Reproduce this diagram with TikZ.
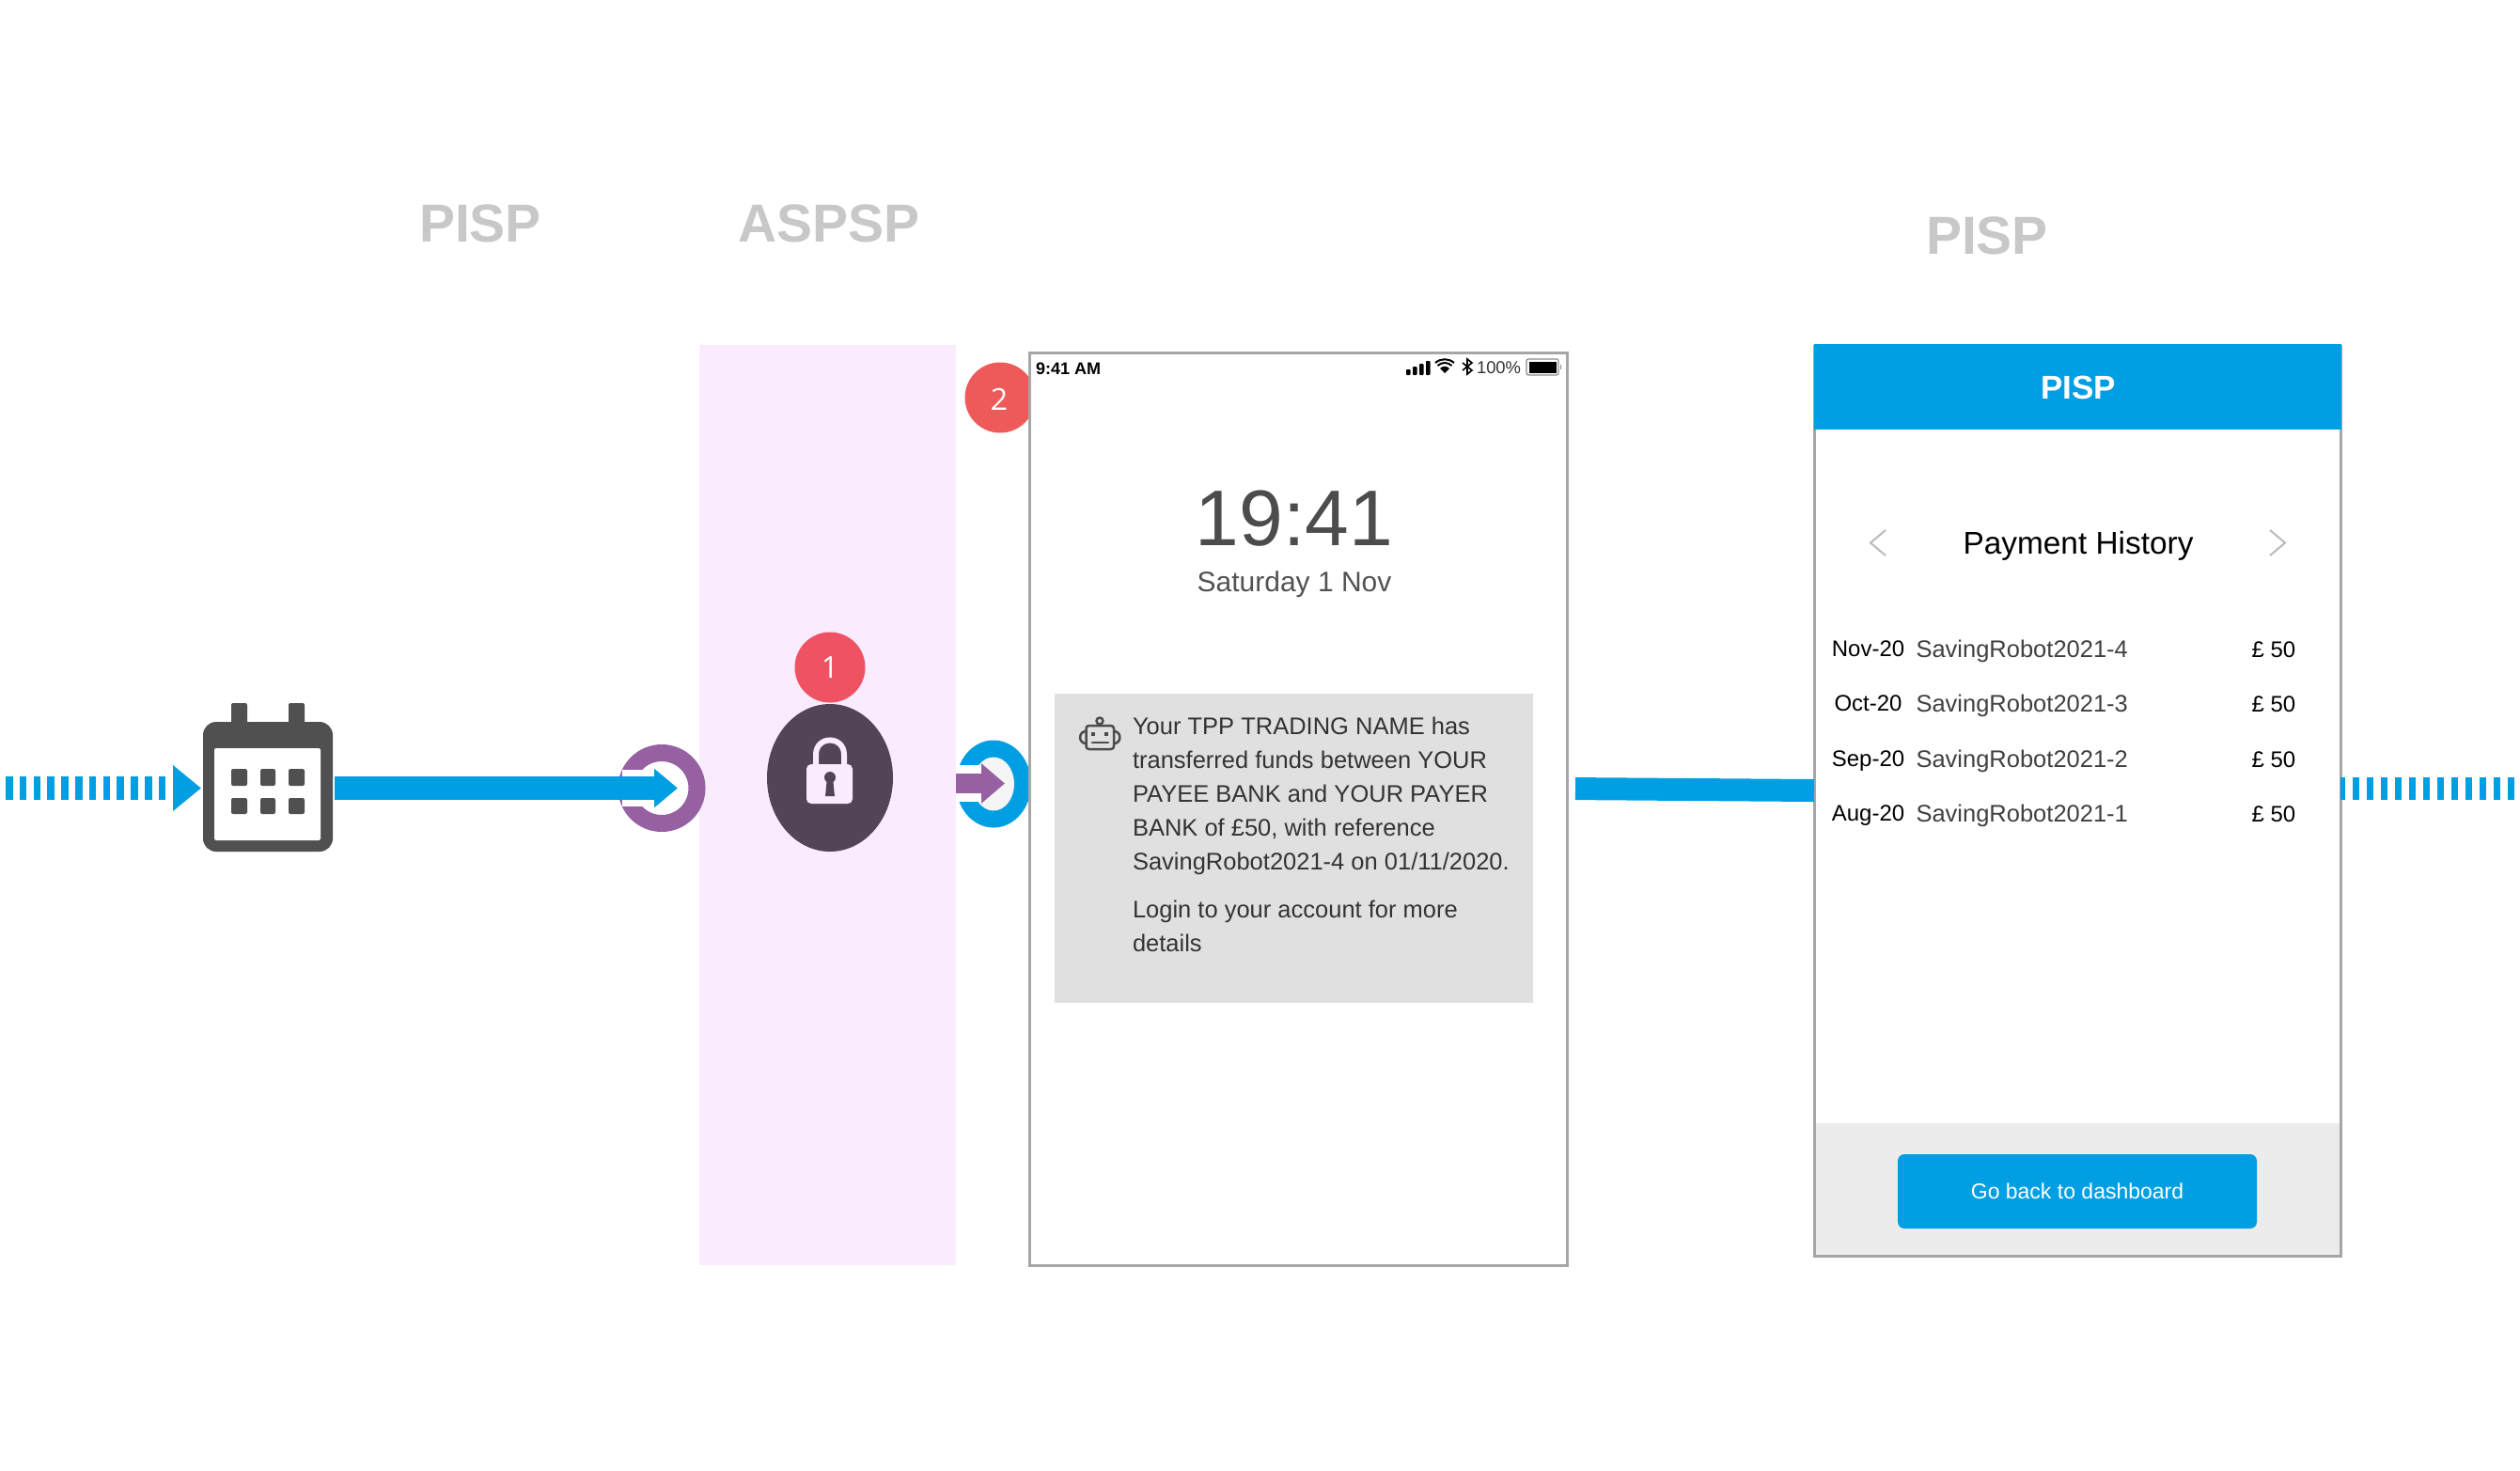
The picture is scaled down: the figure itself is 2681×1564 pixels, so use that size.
\documentclass[tikz,border=0pt]{standalone}
\usepackage{fontspec}
\setmainfont{Liberation Sans}
\newfontfamily\opensans{Open Sans}
\usetikzlibrary{arrows.meta,shapes.geometric}
\definecolor{flow}{HTML}{009FE3}
\definecolor{plum}{HTML}{9660A3}
\definecolor{pinkpanel}{HTML}{FBEBFF}
\definecolor{lockdark}{HTML}{544457}
\definecolor{badgeA}{HTML}{EE5263}
\definecolor{badgeB}{HTML}{EE5A5A}
\definecolor{frame}{HTML}{A6A6A6}
\definecolor{calgrey}{HTML}{505050}
\definecolor{msgbox}{HTML}{E0E0E0}
\definecolor{title}{HTML}{C8C8C8}
\definecolor{footgrey}{HTML}{ECECEC}
\newcommand\fpx[2]{\fontsize{#1}{#2}\selectfont}
\tikzset{
  txt/.style={inner sep=0pt,outer sep=0pt},
  phonebox/.style={draw=frame,line width=1.5pt,fill=white,inner sep=0pt,outer sep=0pt},
  titletxt/.style={txt,font=\fpx{28.5}{32}\bfseries,text=title},
  rowdate/.style={txt,anchor=base,font=\fpx{12}{14},text=black},
  rowref/.style={txt,anchor=base west,font=\fpx{12.75}{14},text=black!75},
  rowamt/.style={txt,anchor=base west,font=\fpx{12}{14},text=black},
  flowdash/.style={draw=flow,line width=12.5pt,dash pattern=on 3.8pt off 3.6pt},
  flowsolid/.style={draw=flow,line width=12.5pt},
  calcell/.style={fill=calgrey,rounded corners=1pt},
  iconline/.style={draw=black!70,line width=1.25pt,line join=round,line cap=round},
  chev/.style={draw=black!27,line width=1pt}
}
\begin{document}
\begin{tikzpicture}[x=0.5pt,y=-0.5pt]
\useasboundingbox (0,0) rectangle (2681,1564);
% titles
\node[titletxt] (t1) at (511,238) {PISP};
\node[titletxt] (t2) at (882,238) {ASPSP};
\node[titletxt] (t3) at (2114,251) {PISP};
% panel
\node[fill=pinkpanel,minimum width=136.5pt,minimum height=489.5pt,inner sep=0pt,outer sep=0pt] (panel) at (880.5,856.5) {};
% calendar
\fill[calgrey,rounded corners=1pt] (246,748) rectangle (263,775);
\fill[calgrey,rounded corners=1pt] (307,748) rectangle (324,775);
\node[fill=calgrey,rounded corners=7pt,minimum width=69pt,minimum height=69pt,inner sep=0pt,outer sep=0pt] (cal) at (285,837) {};
\fill[white,rounded corners=1pt] (228,796) rectangle (341,894);
\foreach \xa/\xb in {246/263,277/293,307/324}{
  \fill[calcell] (\xa,818) rectangle (\xb,836);
  \fill[calcell] (\xa,849) rectangle (\xb,866);
}
% left dashed arrow
\coordinate (dashL) at (6,838.5);
\draw[flowdash,shorten >=1pt,-{Triangle[length=15pt,width=23.5pt]}] (dashL) -- (cal.west |- dashL);
% purple ring + solid arrow
\node[circle,draw=plum,line width=9pt,fill=white,minimum size=75*0.5pt,inner sep=0pt,outer sep=0pt] (ring1) at (704,838.5) {};
\fill[white] (662,819) rectangle (700,858);
\coordinate (ring1tip) at (721,838.5);
\draw[flowsolid,shorten <=1pt,-{Triangle[length=12.5pt,width=20pt]}] (cal.east |- ring1tip) -- (ring1tip);
% lock
\node[ellipse,fill=lockdark,minimum width=67pt,minimum height=78.5pt,inner sep=0pt,outer sep=0pt] (lock) at (883,827.5) {};
\node[circle,fill=badgeA,minimum size=37.5pt,inner sep=0pt,outer sep=0pt,text=white,font=\opensans\fpx{16}{18}] (b1) at (883,710) {1};
\draw[pinkpanel,line width=3pt] (868,815) -- (868,803) .. controls (868,782.3) and (898,782.3) .. (898,803) -- (898,815);
\fill[pinkpanel,rounded corners=2.5pt] (858,813) rectangle (907,855);
\fill[lockdark] (883,827) circle[radius=6];
\fill[lockdark] (880,827) -- (886,827) -- (888,847) -- (878,847) -- cycle;
% blue ring
\node[ellipse,fill=flow,minimum width=40pt,minimum height=46.5pt,inner sep=0pt,outer sep=0pt] (ring2) at (1057,834) {};
\node[ellipse,fill=black!4,minimum width=22pt,minimum height=28.5pt,inner sep=0pt,outer sep=0pt] (ring2in) at (1057,834) {};
\fill[white] (1017,814) rectangle (1046,853);
\coordinate (ring2tip) at (1069,833.5);
\draw[plum,line width=10.5pt,-{Triangle[length=12.5pt,width=20.5pt]}] (panel.east |- ring2tip) -- (ring2tip);
% badge 2
\node[circle,fill=badgeB,minimum size=37.5pt,inner sep=0pt,outer sep=0pt] (b2c) at (1064,423) {};
\node[txt,text=white,font=\opensans\fpx{16}{18}] (b2) at (1063,425) {2};
% phone 1
\node[phonebox,minimum width=286pt,minimum height=485.5pt] (phone) at (1381,860.5) {};
\node[txt,anchor=base west,font=\fpx{9}{11}\bfseries,text=black] (clock) at (1102,398) {9:41 AM};
\foreach \xb/\yb in {1496/393,1503/390,1510/387,1517/384}{\fill[black,rounded corners=0.4pt] (\xb,\yb) rectangle ++(4.5,399-\yb);}
\fill[black] (1537,397) -- (1532,392) .. controls (1535,389) and (1539,389) .. (1542,392) -- cycle;
\draw[black,line width=1pt] (1529.5,389) .. controls (1534,385) and (1540,385) .. (1544.5,389);
\draw[black,line width=1pt] (1527,386) .. controls (1533,381) and (1541,381) .. (1547,386);
\draw[black,line width=0.8pt] (1556,386) -- (1566,394) -- (1561,398) -- (1561,382) -- (1566,386) -- (1556,394);
\node[txt,anchor=base west,font=\fpx{9.2}{11},text=black!80] (batt) at (1571,397.5) {100\%};
\draw[black!45,line width=0.6pt,rounded corners=1pt] (1624,382) rectangle (1658,399);
\fill[black] (1626.5,384.5) rectangle (1655.5,396.5);
\fill[black!45] (1659.5,388) rectangle (1661,393);
\node[txt,anchor=base,font=\fpx{42}{46},text=black!70] (time) at (1377,580.5) {19:41};
\node[txt,anchor=base,font=\fpx{15}{18},text=black!68] (date) at (1377,629.5) {Saturday 1 Nov};
% message
\node[fill=msgbox,minimum width=254.5pt,minimum height=164.5pt,inner sep=0pt,outer sep=0pt] (msg) at (1376.5,902.5) {};
\draw[iconline,rounded corners=1.5pt] (1155.5,772) rectangle (1185,797);
\draw[iconline] (1155.5,778) .. controls (1147,778) and (1147,791) .. (1155.5,791);
\draw[iconline] (1185,778) .. controls (1193.5,778) and (1193.5,791) .. (1185,791);
\draw[iconline] (1170,767) circle[radius=3.5];
\draw[iconline] (1170,770.5) -- (1170,772);
\fill[black!70] (1161,779) rectangle (1165,783);
\fill[black!70] (1175,779) rectangle (1179,783);
\draw[iconline] (1162,790) -- (1179,790);
\node[txt,anchor=north west,align=left,font=\fpx{12.75}{18},text=black!80] (msgA) at (1205,763) {Your TPP TRADING NAME has\\transferred funds between YOUR\\PAYEE BANK and YOUR PAYER\\BANK of £50, with reference\\SavingRobot2021-4 on 01/11/2020.};
\node[txt,anchor=north west,align=left,font=\fpx{12.75}{18},text=black!80] (msgB) at (1205,958) {Login to your account for more\\details};
% phone 2
\node[phonebox,minimum width=280pt,minimum height=484pt] (pisp) at (2210,852) {};
\fill[footgrey] (1931.5,1195) rectangle (2489,1334.5);
\fill[flow] (1930,366) rectangle (2490.5,457);
\node[txt,font=\fpx{17.5}{20}\bfseries,text=white] (head) at (2211,412.5) {PISP};
\node[txt,anchor=base,font=\fpx{16.7}{19},text=black] (ph) at (2211,589.5) {Payment History};
\draw[chev] (2006,564) -- (1990,577.5) -- (2006,591);
\draw[chev] (2415,564) -- (2431,577.5) -- (2415,591);
\foreach \dt/\rf/\yy/\yd in {Nov-20/SavingRobot2021-4/698/698,Oct-20/SavingRobot2021-3/756/756,Sep-20/SavingRobot2021-2/815/815.5,Aug-20/SavingRobot2021-1/873/873.5}{
  \node[rowdate] (d\yy) at (1987.5,\yd) {\dt};
  \node[rowref] (r\yy) at (2038.5,\yy+1) {\rf};
  \node[rowamt] (a\yy) at (2395.6,\yy+1.5) {£ 50};
}
\node[fill=flow,rounded corners=3.5pt,minimum width=191pt,minimum height=39.5pt,inner sep=0pt,outer sep=0pt,text=white,font=\fpx{11.5}{13}] (btn) at (2210,1267.5) {Go back to dashboard};
% connectors
\coordinate (linkA) at (1667,839);
\coordinate (linkB) at (1930,841);
\draw[flowsolid,line width=12pt,shorten <=4.5pt] (linkA) -- (linkB);
\coordinate (dashR) at (2675,839);
\draw[draw=flow,line width=12pt,dash pattern=on 3.75pt off 3.75pt,dash phase=1.25pt] (pisp.east |- dashR) -- (dashR);
\end{tikzpicture}
\end{document}
